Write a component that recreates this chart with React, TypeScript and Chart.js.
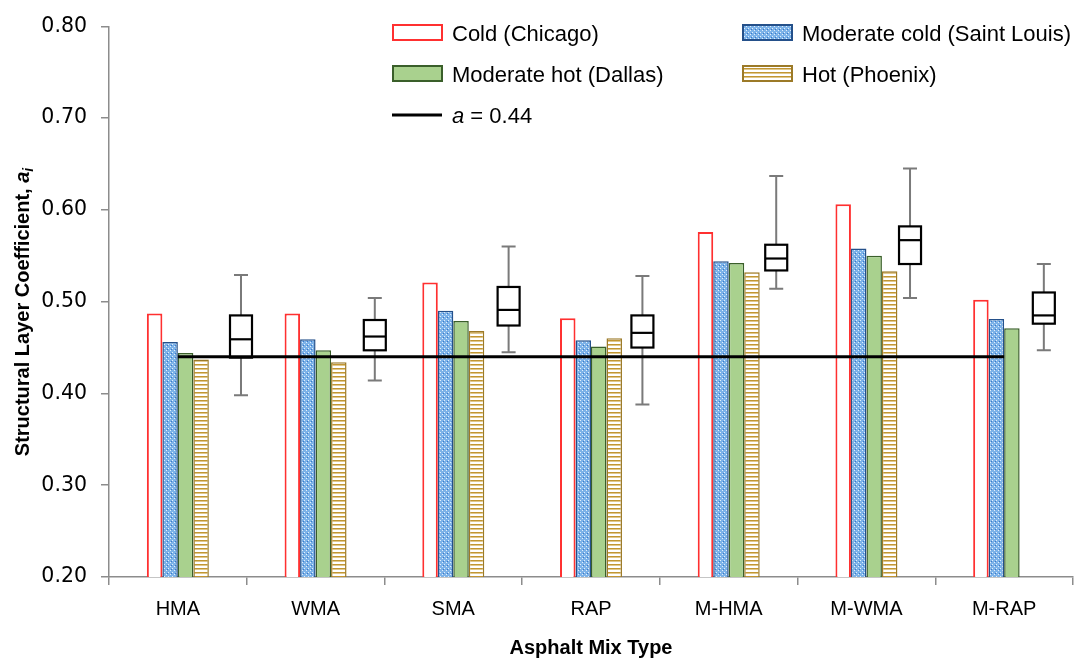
import React, { useEffect, useRef } from "react";
import { Chart, registerables } from "chart.js";

Chart.register(...registerables);

const categories = ["HMA", "WMA", "SMA", "RAP", "M-HMA", "M-WMA", "M-RAP"];
const coldChicago = [0.487, 0.487, 0.521, 0.482, 0.576, 0.606, 0.502];
const modColdStLouis = [0.456, 0.459, 0.49, 0.458, 0.544, 0.558, 0.481];
const modHotDallas = [0.444, 0.447, 0.479, 0.451, 0.542, 0.55, 0.471];
const hotPhoenix = [0.437, 0.434, 0.468, 0.46, 0.532, 0.533, null];
const boxMin = [0.398, 0.414, 0.445, 0.388, 0.514, 0.504, 0.447];
const boxQ1 = [0.439, 0.447, 0.474, 0.45, 0.534, 0.541, 0.476];
const boxMedian = [0.459, 0.462, 0.491, 0.466, 0.547, 0.567, 0.485];
const boxQ3 = [0.485, 0.48, 0.516, 0.485, 0.562, 0.582, 0.51];
const boxMax = [0.529, 0.504, 0.56, 0.528, 0.637, 0.645, 0.541];
const refValue = 0.44;
const refLine = categories.map(() => refValue);
const yTicks = [0.2, 0.3, 0.4, 0.5, 0.6, 0.7, 0.8];

const LABEL_FONT = "'Liberation Sans', sans-serif";

function makeBluePattern(ctx: CanvasRenderingContext2D) {
  const c = document.createElement("canvas");
  c.width = 4;
  c.height = 4;
  const g = c.getContext("2d")!;
  g.fillStyle = "#7cb2e8";
  g.fillRect(0, 0, 4, 4);
  g.fillStyle = "#e2effc";
  g.fillRect(0, 0, 1, 1);
  g.fillRect(2, 2, 1, 1);
  g.fillStyle = "#3a78c8";
  g.fillRect(3, 1, 1, 1);
  return ctx.createPattern(c, "repeat")!;
}

function makeGoldPattern(ctx: CanvasRenderingContext2D) {
  const c = document.createElement("canvas");
  c.width = 4;
  c.height = 4;
  const g = c.getContext("2d")!;
  g.fillStyle = "#ffffff";
  g.fillRect(0, 0, 4, 4);
  g.fillStyle = "#c29632";
  g.fillRect(0, 0, 4, 1);
  g.fillStyle = "#e0c88c";
  g.fillRect(0, 1, 4, 1);
  return ctx.createPattern(c, "repeat")!;
}

export default function App() {
  const ref = useRef<HTMLCanvasElement | null>(null);

  useEffect(() => {
    const canvas = ref.current!;
    const ctx0 = canvas.getContext("2d")!;
    const bluePat = makeBluePattern(ctx0);
    const goldPat = makeGoldPattern(ctx0);

    const boxPlugin = {
      id: "boxes",
      beforeDatasetsDraw(chart: any) {
        const xb = chart.scales.xb;
        const y = chart.scales.y;
        const ctx = chart.ctx;
        ctx.save();
        for (let i = 0; i < categories.length; i++) {
          const x = xb.getPixelForValue(i);
          const half = 11;
          const cap = 7;
          ctx.strokeStyle = "#7a7a7a";
          ctx.lineWidth = 2;
          ctx.beginPath();
          ctx.moveTo(x, y.getPixelForValue(boxMax[i]));
          ctx.lineTo(x, y.getPixelForValue(boxQ3[i]));
          ctx.moveTo(x, y.getPixelForValue(boxQ1[i]));
          ctx.lineTo(x, y.getPixelForValue(boxMin[i]));
          ctx.moveTo(x - cap, y.getPixelForValue(boxMax[i]));
          ctx.lineTo(x + cap, y.getPixelForValue(boxMax[i]));
          ctx.moveTo(x - cap, y.getPixelForValue(boxMin[i]));
          ctx.lineTo(x + cap, y.getPixelForValue(boxMin[i]));
          ctx.stroke();
          const top = y.getPixelForValue(boxQ3[i]);
          const bot = y.getPixelForValue(boxQ1[i]);
          ctx.fillStyle = "#ffffff";
          ctx.fillRect(x - half, top, half * 2, bot - top);
          ctx.strokeStyle = "#000000";
          ctx.lineWidth = 2.2;
          ctx.strokeRect(x - half, top, half * 2, bot - top);
          const m = y.getPixelForValue(boxMedian[i]);
          ctx.beginPath();
          ctx.moveTo(x - half, m);
          ctx.lineTo(x + half, m);
          ctx.stroke();
        }
        ctx.restore();
      },
    };

    const legendPlugin = {
      id: "customLegend",
      afterDraw(chart: any) {
        const ctx = chart.ctx;
        ctx.save();
        ctx.font = `22px ${LABEL_FONT}`;
        ctx.textBaseline = "middle";
        ctx.fillStyle = "#000";
        const items = [
          { x: 393, y: 25, fill: "#ffffff", stroke: "#ff3030", lw: 2, text: "Cold (Chicago)" },
          { x: 743, y: 25, fill: bluePat, stroke: "#24508a", lw: 2, text: "Moderate cold (Saint Louis)" },
          { x: 393, y: 66, fill: "#a9d18e", stroke: "#3a5f2a", lw: 2, text: "Moderate hot (Dallas)" },
          { x: 743, y: 66, fill: goldPat, stroke: "#9c7a28", lw: 2, text: "Hot (Phoenix)" },
        ];
        for (const it of items) {
          ctx.fillStyle = it.fill;
          ctx.fillRect(it.x, it.y, 49, 15);
          ctx.strokeStyle = it.stroke;
          ctx.lineWidth = it.lw;
          ctx.strokeRect(it.x, it.y, 49, 15);
          ctx.fillStyle = "#000";
          ctx.fillText(it.text, it.x + 59, it.y + 10);
        }
        ctx.strokeStyle = "#000";
        ctx.lineWidth = 3;
        ctx.beginPath();
        ctx.moveTo(392, 115);
        ctx.lineTo(442, 115);
        ctx.stroke();
        ctx.font = `italic 22px ${LABEL_FONT}`;
        ctx.fillText("a", 452, 117);
        const aw = ctx.measureText("a").width;
        ctx.font = `22px ${LABEL_FONT}`;
        ctx.fillText(" = " + refValue.toFixed(2), 452 + aw, 117);

        // y-axis title with italic subscript
        ctx.translate(22, 312);
        ctx.rotate(-Math.PI / 2);
        const main = "Structural Layer Coefficient, ";
        ctx.font = `bold 20px ${LABEL_FONT}`;
        const w1 = ctx.measureText(main).width;
        ctx.font = `bold italic 20px ${LABEL_FONT}`;
        const w2 = ctx.measureText("a").width;
        ctx.font = `bold italic 14px ${LABEL_FONT}`;
        const w3 = ctx.measureText("i").width;
        const total = w1 + w2 + w3;
        let xx = -total / 2;
        ctx.textBaseline = "alphabetic";
        ctx.font = `bold 20px ${LABEL_FONT}`;
        ctx.fillText(main, xx, 7);
        xx += w1;
        ctx.font = `bold italic 20px ${LABEL_FONT}`;
        ctx.fillText("a", xx, 7);
        xx += w2;
        ctx.font = `bold italic 14px ${LABEL_FONT}`;
        ctx.fillText("i", xx, 11);
        ctx.restore();
      },
    };

    const chart = new Chart(canvas, {
      type: "bar",
      data: {
        labels: categories,
        datasets: [
          {
            type: "line",
            label: "a = 0.44",
            data: refLine,
            borderColor: "#000",
            borderWidth: 3,
            pointRadius: 0,
            order: 0,
          } as any,
          {
            label: "Cold (Chicago)",
            data: coldChicago,
            backgroundColor: "#ffffff",
            borderColor: "#ff3030",
            borderWidth: 2,
            order: 1,
          },
          {
            label: "Moderate cold (Saint Louis)",
            data: modColdStLouis,
            backgroundColor: bluePat,
            borderColor: "#24508a",
            borderWidth: 1.5,
            order: 1,
          },
          {
            label: "Moderate hot (Dallas)",
            data: modHotDallas,
            backgroundColor: "#a9d18e",
            borderColor: "#3a5f2a",
            borderWidth: 1.5,
            order: 1,
          },
          {
            label: "Hot (Phoenix)",
            data: hotPhoenix,
            backgroundColor: goldPat,
            borderColor: "#9c7a28",
            borderWidth: 1.5,
            order: 1,
          },
        ],
      },
      options: {
        responsive: false,
        animation: false,
        devicePixelRatio: 1,
        layout: { padding: { top: 19, right: 5, left: 0, bottom: 0 } },
        plugins: { legend: { display: false }, tooltip: { enabled: false } },
        datasets: { bar: { barPercentage: 1, categoryPercentage: 0.45 } },
        scales: {
          x: {
            type: "category",
            offset: true,
            grid: {
              display: true,
              offset: true,
              drawOnChartArea: false,
              drawTicks: true,
              tickLength: 8,
              color: "#8c8c8c",
              lineWidth: 1.5,
            },
            border: { display: true, color: "#8c8c8c", width: 1.5 },
            ticks: {
              color: "#000",
              font: { family: LABEL_FONT, size: 20 },
              padding: 12,
              maxRotation: 0,
            },
            title: {
              display: true,
              text: "Asphalt Mix Type",
              color: "#000",
              font: { family: LABEL_FONT, size: 20, weight: "bold" },
              padding: { top: 0, bottom: 2 },
            },
            afterFit(scale: any) {
              scale.height = 85;
            },
          },
          xb: {
            type: "linear",
            axis: "x",
            position: "bottom",
            display: false,
            offset: false,
            bounds: "data",
            grace: 0,
            grid: { offset: false },
            min: -0.9865,
            max: 6.218,
          } as any,
          y: {
            type: "linear",
            min: 0.2,
            max: 0.8,
            afterBuildTicks(scale: any) {
              scale.ticks = yTicks.map((v) => ({ value: v }));
            },
            grid: {
              display: true,
              drawOnChartArea: false,
              drawTicks: true,
              tickLength: 8,
              color: "#8c8c8c",
              lineWidth: 1.5,
            },
            border: { display: true, color: "#8c8c8c", width: 1.5 },
            ticks: {
              color: "#000",
              font: { family: "'DejaVu Sans', sans-serif", size: 20.5 },
              padding: 14,
              callback: (v: any) => Number(v).toFixed(2),
            },
            afterFit(scale: any) {
              scale.width = 109;
            },
          },
        },
      },
      plugins: [boxPlugin, legendPlugin],
    });
    return () => chart.destroy();
  }, []);

  return (
    <div style={{ position: "fixed", left: 0, top: 0, width: 1078, height: 662, background: "#fff" }}>
      <canvas ref={ref} width={1078} height={662} style={{ display: "block" }} />
    </div>
  );
}
